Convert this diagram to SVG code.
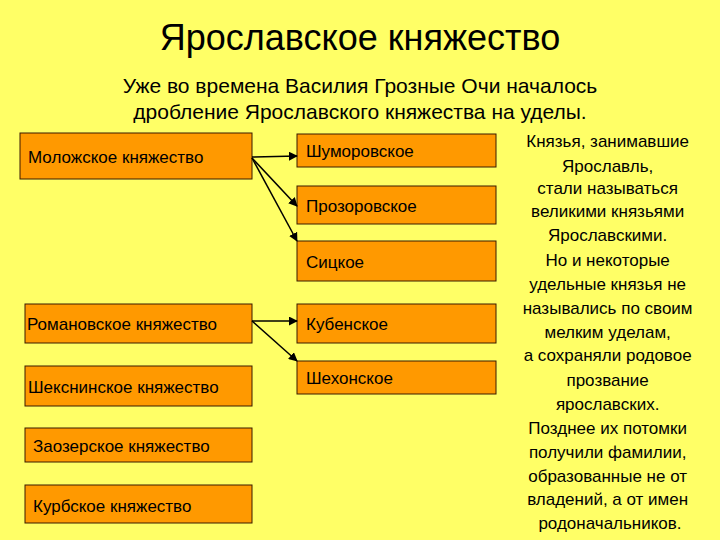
<svg xmlns="http://www.w3.org/2000/svg" width="720" height="540" viewBox="0 0 720 540">
<style>
.b{fill:#FF9900;stroke:#3a1a00;stroke-width:1}
.t{font-family:"Liberation Sans",Arial,sans-serif;font-size:17px;fill:#000}
.h{font-family:"Liberation Sans",Arial,sans-serif;fill:#000}
.c{stroke:#000;stroke-width:1.5;fill:none;marker-end:url(#a)}
</style>
<defs><marker id="a" viewBox="0 0 10 10" refX="9" refY="5" markerWidth="6" markerHeight="6" orient="auto"><path d="M0,0L10,5L0,10z" fill="#000"/></marker></defs>
<rect width="720" height="540" fill="#FFFF66"/>
<text class="h" x="360" y="50" font-size="36" text-anchor="middle">Ярославское княжество</text>
<text class="h" x="360" y="93" font-size="21" text-anchor="middle">Уже во времена Василия Грозные Очи началось</text>
<text class="h" x="360" y="119" font-size="21" text-anchor="middle">дробление Ярославского княжества на уделы.</text>
<g id="n1"><rect class="b" x="20" y="133" width="232" height="46"/><text class="t" x="28" y="163">Моложское княжество</text></g>
<g id="n2"><rect class="b" x="297" y="134" width="199" height="33"/><text class="t" x="306" y="157">Шуморовское</text></g>
<g id="n3"><rect class="b" x="297" y="186" width="199" height="38"/><text class="t" x="306" y="212">Прозоровское</text></g>
<g id="n4"><rect class="b" x="297" y="241" width="199" height="40"/><text class="t" x="306" y="268">Сицкое</text></g>
<g id="n5"><rect class="b" x="25" y="304" width="227" height="39"/><text class="t" x="27" y="330">Романовское княжество</text></g>
<g id="n6"><rect class="b" x="297" y="304" width="199" height="39"/><text class="t" x="306" y="330">Кубенское</text></g>
<g id="n7"><rect class="b" x="25" y="366" width="227" height="40"/><text class="t" x="28" y="393">Шекснинское княжество</text></g>
<g id="n8"><rect class="b" x="297" y="361" width="199" height="33"/><text class="t" x="306" y="384">Шехонское</text></g>
<g id="n9"><rect class="b" x="25" y="428" width="227" height="34"/><text class="t" x="33" y="452">Заозерское княжество</text></g>
<g id="n10"><rect class="b" x="25" y="485" width="227" height="38"/><text class="t" x="33" y="512">Курбское княжество</text></g>
<g id="connectors">
<path class="c" d="M252,157L297,156"/>
<path class="c" d="M252,158L297,206"/>
<path class="c" d="M252,158L297,241"/>
<path class="c" d="M252,321L297,321"/>
<path class="c" d="M252,321L297,361"/>
</g>
<g id="note"><text class="h" font-size="17" text-anchor="middle">
<tspan x="610" y="147">Князья,  занимавшие</tspan>
<tspan x="610" y="172">Ярославль,</tspan>
<tspan x="610" y="194">стали называться</tspan>
<tspan x="610" y="217">великими князьями</tspan>
<tspan x="610" y="241">Ярославскими.</tspan>
<tspan x="610" y="266">Но и некоторые</tspan>
<tspan x="610" y="290">удельные князья не</tspan>
<tspan x="610" y="314">назывались по своим</tspan>
<tspan x="610" y="338">мелким уделам,</tspan>
<tspan x="610" y="361">а сохраняли родовое</tspan>
<tspan x="610" y="386">прозвание</tspan>
<tspan x="610" y="410">ярославских.</tspan>
<tspan x="610" y="434">Позднее их потомки</tspan>
<tspan x="610" y="458">получили фамилии,</tspan>
<tspan x="610" y="482">образованные не от</tspan>
<tspan x="610" y="505">владений, а от имен</tspan>
<tspan x="610" y="529">родоначальников.</tspan>
</text></g>
</svg>
